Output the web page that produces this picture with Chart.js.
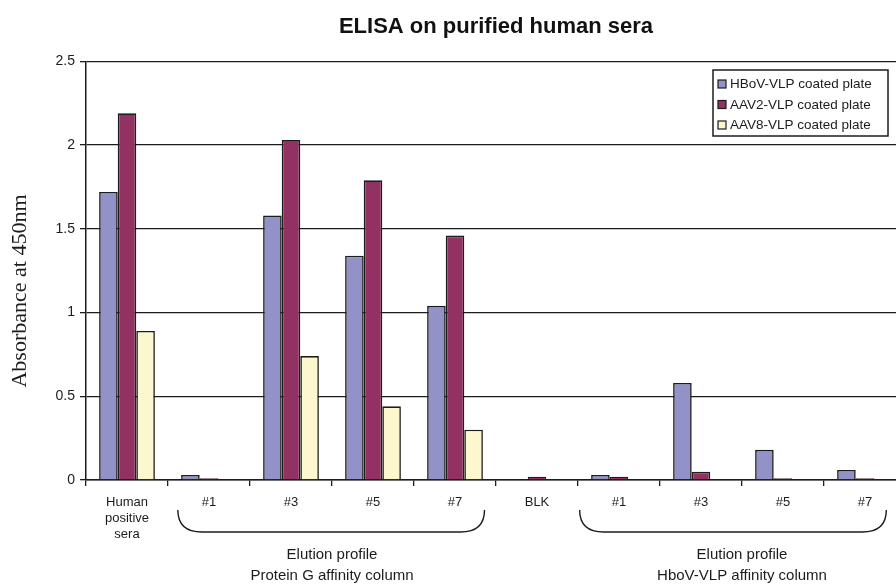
<!DOCTYPE html>
<html>
<head>
<meta charset="utf-8">
<script src="https://cdn.jsdelivr.net/npm/chart.js@4/dist/chart.umd.min.js"></script>
<style>
  html, body { margin: 0; padding: 0; background: #fff; overflow: hidden; }
  #wrap { width: 896px; height: 586px; overflow: hidden; position: relative; }
  canvas { display: block; }
</style>
</head>
<body>
<div id="wrap"><canvas id="c" width="992" height="586"></canvas></div>
<script>
// Sample labels along the x axis
const categories = [["Human", "positive", "sera"], "#1", "#3", "#5", "#7", "BLK", "#1", "#3", "#5", "#7"];

// Absorbance at 450 nm for each coated plate
const hbovValues = [1.72, 0.03, 1.58, 1.34, 1.04, 0, 0.03, 0.58, 0.18, 0.06];
const aav2Values = [2.19, 0.01, 2.03, 1.79, 1.46, 0.02, 0.02, 0.05, 0.01, 0.01];
const aav8Values = [0.89, 0, 0.74, 0.44, 0.30, 0, 0, 0, 0, 0];

const seriesNames = ["HBoV-VLP coated plate", "AAV2-VLP coated plate", "AAV8-VLP coated plate"];
const seriesColors = ["#9292C8", "#923262", "#FCF7CC"];

// Brackets grouping the elution fractions under the axis
const groupRanges = [[1, 4], [6, 9]];
const groupTitles = [["Elution profile", "Protein G affinity column"],
                     ["Elution profile", "HboV-VLP affinity column"]];

const yTicks = { min: 0, max: 2.5, step: 0.5 };
const chartTitle = "ELISA on purified human sera";
const yTitle = "Absorbance at 450nm";

const INK = "#1c1c1c";

const groupPlugin = {
  id: "groups",
  afterDraw(chart) {
    const ctx = chart.ctx;
    const x = chart.scales.x;
    const w = x.getPixelForValue(1) - x.getPixelForValue(0);
    ctx.save();
    ctx.strokeStyle = INK;
    ctx.lineWidth = 1.4;
    groupRanges.forEach((r, gi) => {
      const left = x.getPixelForValue(r[0]) - (gi === 0 ? 0.38 : 0.48) * w;
      const right = x.getPixelForValue(r[1]) + (gi === 0 ? 0.36 : 0.26) * w;
      const top = 510, bot = 532, bend = 24;
      ctx.beginPath();
      ctx.moveTo(left, top);
      ctx.quadraticCurveTo(left, bot, left + bend, bot);
      ctx.lineTo(right - bend, bot);
      ctx.quadraticCurveTo(right, bot, right, top);
      ctx.stroke();
      const cx = (x.getPixelForValue(r[0] + 1) + x.getPixelForValue(r[0] + 2)) / 2;
      ctx.fillStyle = INK;
      ctx.font = "15px 'Liberation Sans', Arial, sans-serif";
      ctx.textAlign = "center";
      ctx.textBaseline = "middle";
      ctx.fillText(groupTitles[gi][0], cx, 555);
      ctx.fillText(groupTitles[gi][1], cx, 576);
    });
    ctx.restore();
  }
};

const legendPlugin = {
  id: "boxLegend",
  afterDraw(chart) {
    const ctx = chart.ctx;
    const bx = 713, by = 70, bw = 175, bh = 66;
    ctx.save();
    ctx.fillStyle = "#fff";
    ctx.fillRect(bx, by, bw, bh);
    ctx.strokeStyle = INK;
    ctx.lineWidth = 1.5;
    ctx.strokeRect(bx, by, bw, bh);
    ctx.font = "13.5px 'Liberation Sans', Arial, sans-serif";
    ctx.textBaseline = "middle";
    ctx.textAlign = "left";
    chart.data.datasets.forEach((ds, i) => {
      const cy = by + 14 + i * 20.5;
      ctx.fillStyle = ds.backgroundColor;
      ctx.fillRect(bx + 5, cy - 4, 8, 8);
      ctx.lineWidth = 1.2;
      ctx.strokeRect(bx + 5, cy - 4, 8, 8);
      ctx.fillStyle = INK;
      ctx.fillText(ds.label, bx + 17, cy + 0.5);
    });
    ctx.restore();
  }
};

const yTitlePlugin = {
  id: "yTitle",
  afterDraw(chart) {
    const ctx = chart.ctx;
    ctx.save();
    ctx.translate(20, 291);
    ctx.rotate(-Math.PI / 2);
    ctx.fillStyle = INK;
    ctx.font = "22px 'Liberation Serif', 'Times New Roman', serif";
    ctx.textAlign = "center";
    ctx.textBaseline = "middle";
    ctx.fillText(yTitle, 0, 0);
    ctx.restore();
  }
};

new Chart(document.getElementById("c"), {
  type: "bar",
  data: {
    labels: categories,
    datasets: [hbovValues, aav2Values, aav8Values].map((vals, i) => ({
      label: seriesNames[i],
      data: vals,
      backgroundColor: seriesColors[i],
      borderColor: INK,
      borderWidth: 1.6,
      categoryPercentage: 0.68,
      barPercentage: 1.0
    }))
  },
  options: {
    responsive: false,
    animation: false,
    layout: { padding: { left: 0, right: 86, top: 0, bottom: 0 } },
    plugins: {
      legend: { display: false },
      tooltip: { enabled: false },
      title: {
        display: true,
        fullSize: false,
        text: chartTitle,
        color: "#111",
        font: { family: "'Liberation Sans', Arial, sans-serif", weight: "bold", size: 22 },
        padding: { top: 14, bottom: 21 }
      }
    },
    scales: {
      x: {
        grid: { offset: true, drawOnChartArea: false, drawTicks: true, tickLength: 6, color: INK, lineWidth: 1.3 },
        border: { color: INK, width: 1.5 },
        ticks: {
          color: INK,
          padding: 9,
          maxRotation: 0,
          autoSkip: false,
          font: { family: "'Liberation Sans', Arial, sans-serif", size: 13 }
        },
        afterFit(scale) { scale.height = 106; }
      },
      y: {
        min: yTicks.min,
        max: yTicks.max,
        ticks: {
          stepSize: yTicks.step,
          color: INK,
          padding: 5,
          font: { family: "'Liberation Sans', Arial, sans-serif", size: 14 },
          callback: (v) => String(Number(v))
        },
        grid: { color: INK, lineWidth: 1.3, tickLength: 6 },
        border: { color: INK, width: 1.5 },
        afterFit(scale) { scale.width = 86; }
      }
    }
  },
  plugins: [groupPlugin, legendPlugin, yTitlePlugin]
});
</script>
</body>
</html>
